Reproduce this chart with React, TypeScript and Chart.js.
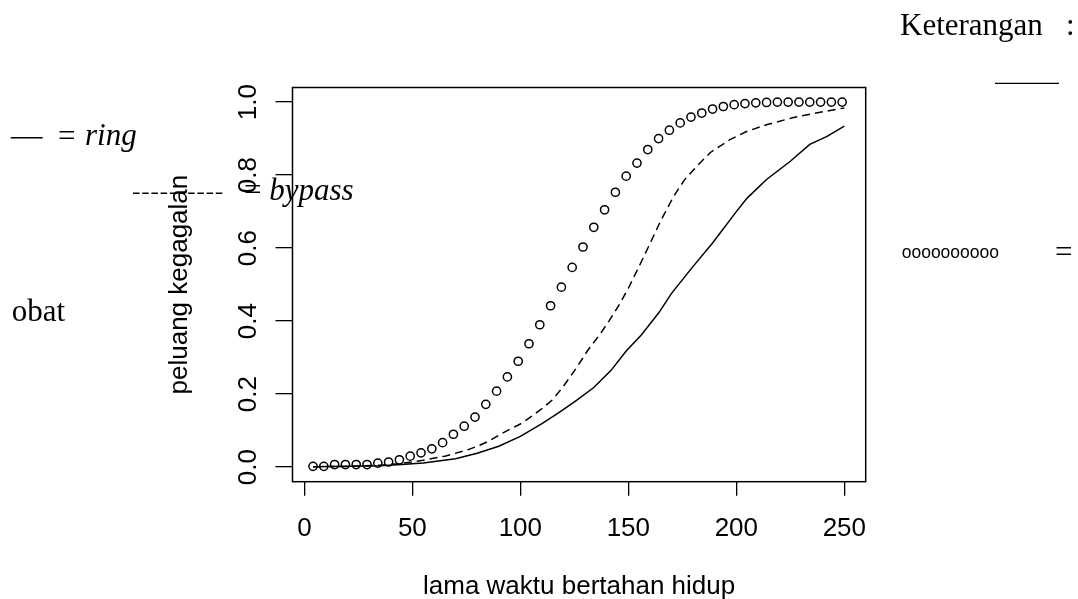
import React, { useEffect, useRef } from "react";
import { Chart, registerables } from "chart.js";

Chart.register(...registerables);

// Axis ticks
const xTickValues = [0, 50, 100, 150, 200, 250];
const yTickValues = [0, 0.2, 0.4, 0.6, 0.8, 1.0];

// "obat" (circles)
const obatTimes = [4, 9, 14, 19, 24, 29, 34, 39, 44, 49, 54, 59, 64, 69, 74, 79, 84, 89, 94, 99, 104, 109, 114, 119, 124, 129, 134, 139, 144, 149, 154, 159, 164, 169, 174, 179, 184, 189, 194, 199, 204, 209, 214, 219, 224, 229, 234, 239, 244, 249];
const obatProb = [0.002, 0.002, 0.007, 0.007, 0.007, 0.007, 0.011, 0.014, 0.02, 0.03, 0.039, 0.05, 0.067, 0.09, 0.112, 0.137, 0.172, 0.208, 0.247, 0.29, 0.338, 0.39, 0.442, 0.493, 0.547, 0.603, 0.657, 0.705, 0.753, 0.797, 0.833, 0.87, 0.9, 0.923, 0.943, 0.959, 0.97, 0.981, 0.988, 0.993, 0.996, 0.998, 0.999, 1.0, 1.0, 1.0, 1.0, 1.0, 1.0, 1.0];

// "bypass" (dashed line)
const bypassTimes = [4, 20, 35, 45, 55, 65, 75, 80, 85, 92, 100, 103, 110, 115, 120, 126, 131, 137, 141, 146, 150, 155, 160, 165, 171, 176, 182, 188, 197, 205, 214, 226, 237, 250];
const bypassProb = [0.001, 0.002, 0.005, 0.01, 0.019, 0.03, 0.046, 0.057, 0.07, 0.094, 0.118, 0.13, 0.16, 0.185, 0.222, 0.272, 0.318, 0.365, 0.4, 0.447, 0.49, 0.55, 0.612, 0.675, 0.742, 0.787, 0.826, 0.862, 0.897, 0.92, 0.938, 0.957, 0.97, 0.984];

// "ring" (solid line)
const ringTimes = [4, 20, 35, 45, 55, 70, 80, 90, 100, 110, 118, 126, 134, 142, 149, 156, 164, 170, 180, 189, 200, 205, 214, 225, 234, 242, 250];
const ringProb = [0.001, 0.002, 0.004, 0.007, 0.011, 0.023, 0.038, 0.057, 0.084, 0.119, 0.15, 0.183, 0.218, 0.265, 0.318, 0.362, 0.422, 0.476, 0.55, 0.614, 0.7, 0.737, 0.788, 0.838, 0.884, 0.906, 0.934];

const X_MIN = -5.5;
const X_MAX = 259.9;
const Y_MIN = -0.04;
const Y_MAX = 1.04;

const SANS = '"Liberation Sans", Arial, Helvetica, sans-serif';
const SERIF = '"Liberation Serif", "Times New Roman", Times, serif';

const boxPlugin = {
  id: "rbox",
  afterDraw(chart: any) {
    const { ctx, chartArea: a } = chart;
    ctx.save();
    ctx.strokeStyle = "#000";
    ctx.lineWidth = 1.5;
    ctx.strokeRect(a.left, a.top, a.right - a.left, a.bottom - a.top);
    ctx.restore();
  },
};

function toPoints(xs: number[], ys: number[]) {
  return xs.map((x, i) => ({ x, y: ys[i] }));
}

export default function App() {
  const canvasRef = useRef<HTMLCanvasElement | null>(null);

  useEffect(() => {
    const canvas = canvasRef.current;
    if (!canvas) return;
    const chart = new Chart(canvas, {
      type: "scatter",
      data: {
        datasets: [
          {
            label: "ring",
            data: toPoints(ringTimes, ringProb),
            showLine: true,
            borderColor: "#000",
            borderWidth: 1.5,
            pointRadius: 0,
            fill: false,
            tension: 0,
          },
          {
            label: "bypass",
            data: toPoints(bypassTimes, bypassProb),
            showLine: true,
            borderColor: "#000",
            borderWidth: 1.5,
            borderDash: [8, 5],
            pointRadius: 0,
            fill: false,
            tension: 0,
          },
          {
            label: "obat",
            data: toPoints(obatTimes, obatProb),
            showLine: false,
            borderColor: "#000",
            backgroundColor: "rgba(0,0,0,0)",
            pointBorderColor: "#000",
            pointBackgroundColor: "rgba(0,0,0,0)",
            pointRadius: 4.1,
            pointBorderWidth: 1.5,
            borderWidth: 1.5,
          },
        ],
      },
      options: {
        animation: false,
        responsive: false,
        maintainAspectRatio: false,
        devicePixelRatio: 1,
        layout: { padding: { left: 0, top: 87.5, right: 212.3, bottom: 0 } },
        plugins: {
          legend: { display: false },
          tooltip: { enabled: false },
        },
        scales: {
          x: {
            type: "linear",
            min: X_MIN,
            max: X_MAX,
            afterBuildTicks: (s: any) => {
              s.ticks = xTickValues.map((v) => ({ value: v }));
            },
            afterFit: (s: any) => {
              s.height = 117.3;
            },
            border: { display: false },
            grid: {
              display: true,
              drawOnChartArea: false,
              drawTicks: true,
              tickLength: 14,
              color: "#000",
              lineWidth: 1.3,
            },
            ticks: {
              color: "#000",
              font: { family: SANS, size: 26, lineHeight: 1 },
              padding: 20.6,
              minRotation: 0,
              maxRotation: 0,
              autoSkip: false,
              callback: (v: any) => String(v),
            },
            title: {
              display: true,
              text: "lama waktu bertahan hidup",
              color: "#000",
              font: { family: SANS, size: 26, lineHeight: 1 },
              padding: { top: 0, bottom: -1 },
            },
          },
          y: {
            type: "linear",
            min: Y_MIN,
            max: Y_MAX,
            afterBuildTicks: (s: any) => {
              s.ticks = yTickValues.map((v) => ({ value: v }));
            },
            afterFit: (s: any) => {
              s.width = 292.5;
            },
            border: { display: false },
            grid: {
              display: true,
              drawOnChartArea: false,
              drawTicks: true,
              tickLength: 17,
              color: "#000",
              lineWidth: 1.3,
            },
            ticks: {
              color: "#000",
              font: { family: SANS, size: 26, lineHeight: 1 },
              padding: 8.5,
              minRotation: 90,
              maxRotation: 90,
              crossAlign: "center",
              autoSkip: false,
              callback: (v: any) => Number(v).toFixed(1),
            },
            title: {
              display: true,
              text: "peluang kegagalan",
              color: "#000",
              font: { family: SANS, size: 26, lineHeight: 1 },
              padding: { top: 166.6, bottom: 0 },
            },
          },
        },
      },
      plugins: [boxPlugin],
    } as any);
    return () => chart.destroy();
  }, []);

  const serifText = { fontFamily: SERIF, fill: "#000" } as any;

  return (
    <div style={{ position: "absolute", left: 0, top: 0, width: 1078, height: 599, background: "#fff" }}>
      <canvas ref={canvasRef} width={1078} height={599} style={{ display: "block", width: 1078, height: 599 }} />
      <svg
        width={1078}
        height={599}
        style={{ position: "absolute", left: 0, top: 0, pointerEvents: "none" }}
      >
        <text x={900} y={35} fontSize={31} {...serifText}>Keterangan</text>
        <text x={1066} y={35} fontSize={31} {...serifText}>:</text>
        <line x1={995} y1={83.3} x2={1059} y2={83.3} stroke="#000" strokeWidth={1.3} />

        <line x1={10.7} y1={137.7} x2={42.7} y2={137.7} stroke="#000" strokeWidth={1.4} />
        <text x={58} y={145.5} fontSize={31} {...serifText}>=</text>
        <text x={85} y={145} fontSize={31} fontStyle="italic" {...serifText}>ring</text>

        <line x1={133} y1={193.3} x2={225} y2={193.3} stroke="#000" strokeWidth={1.5} strokeDasharray="6.5 2.7" />
        <text x={244} y={200} fontSize={31} {...serifText}>=</text>
        <text x={269.3} y={200} fontSize={31} fontStyle="italic" {...serifText}>bypass</text>

        <text x={11.7} y={321} fontSize={31} {...serifText}>obat</text>

        <text x={901.7} y={257.8} fontSize={17.5} fontFamily={SANS} fill="#000">oooooooooo</text>
        <text x={1055} y={261.5} fontSize={31} {...serifText}>=</text>
      </svg>
    </div>
  );
}
